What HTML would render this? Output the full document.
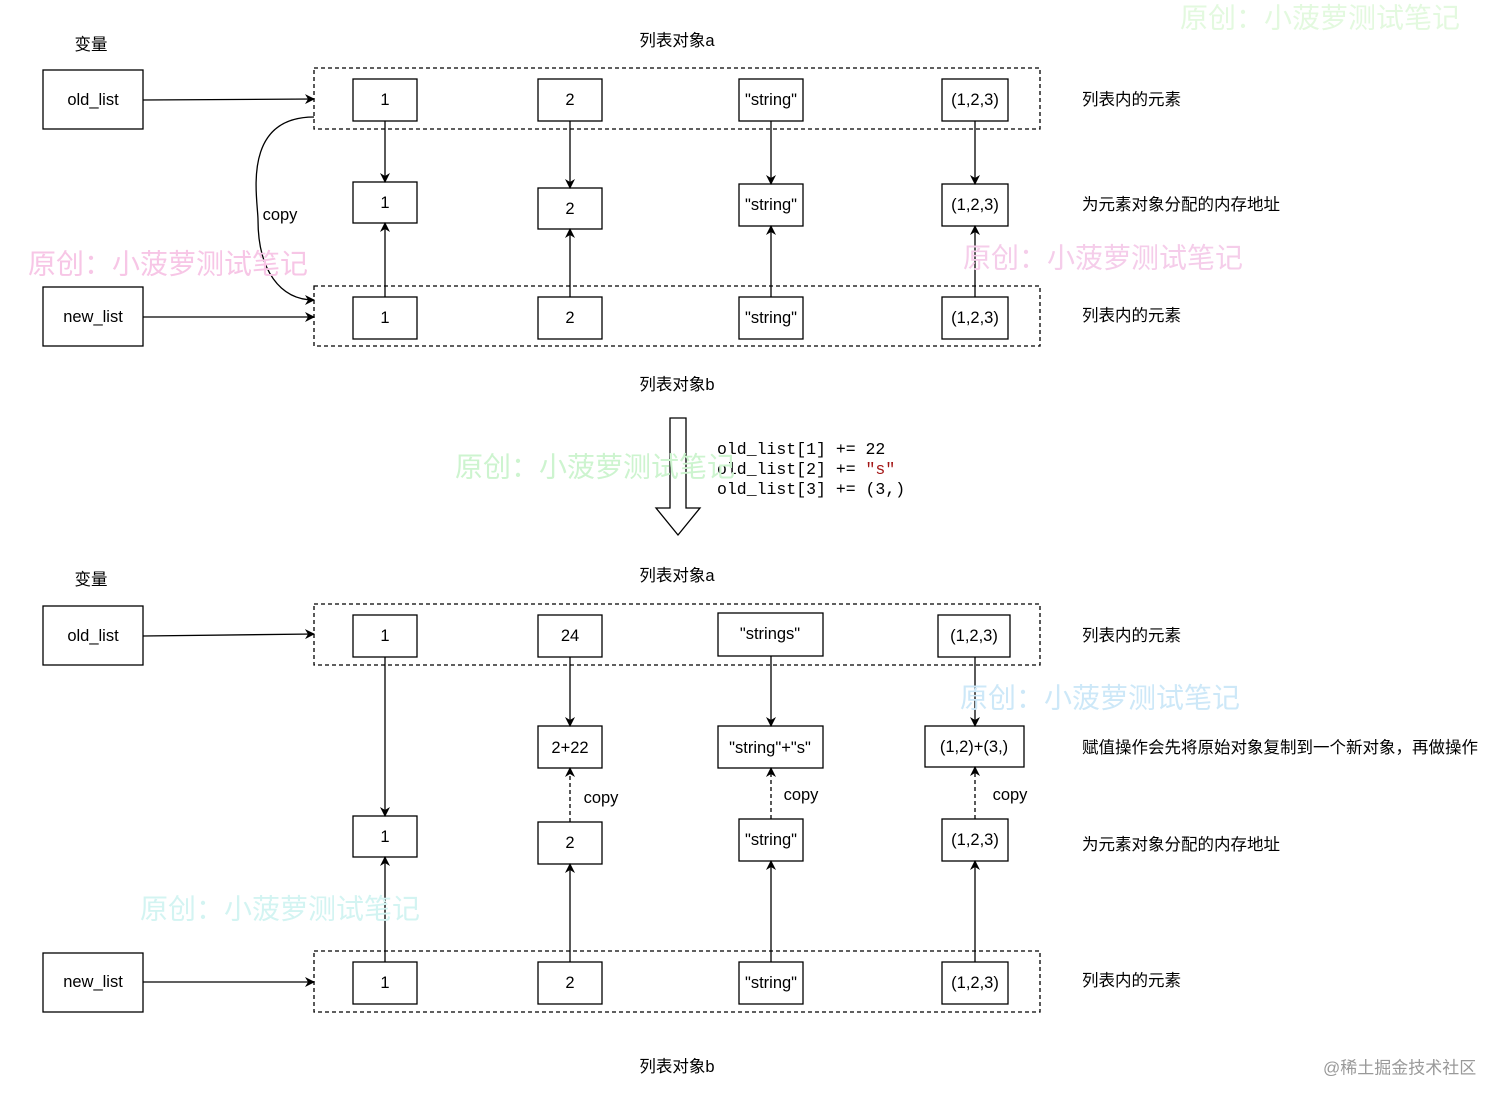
<!DOCTYPE html>
<html><head><meta charset="utf-8"><style>
html,body{margin:0;padding:0;background:#fff;}
svg{display:block}
text{font-family:"Liberation Sans","Noto Sans CJK SC",sans-serif;font-size:16.5px;fill:#000}
.c{text-anchor:middle;dominant-baseline:central}
.wm{font-size:28px;dominant-baseline:central}
.code{font-family:"Liberation Mono",monospace;font-size:16.5px}
</style></head><body>
<svg width="1512" height="1107" viewBox="0 0 1512 1107" xmlns="http://www.w3.org/2000/svg">
<defs>
<marker id="a" markerWidth="10" markerHeight="10" refX="9" refY="5" orient="auto" markerUnits="userSpaceOnUse">
<path d="M0,0 L10,5 L0,10 L3,5 Z" fill="#000"/></marker>
</defs>
<g fill="#fff" stroke="#000" stroke-width="1.3">
<rect x="314" y="68" width="726" height="61" stroke-dasharray="4,3"/>
<rect x="314" y="286" width="726" height="60" stroke-dasharray="4,3"/>
<rect x="43" y="70" width="100" height="59"/>
<rect x="43" y="287" width="100" height="59"/>
<rect x="353" y="79" width="64" height="42"/><rect x="538" y="79" width="64" height="42"/>
<rect x="739" y="79" width="64" height="42"/><rect x="942" y="79" width="66" height="42"/>
<rect x="353" y="182" width="64" height="41"/><rect x="538" y="188" width="64" height="41"/>
<rect x="739" y="184" width="64" height="42"/><rect x="942" y="184" width="66" height="42"/>
<rect x="353" y="297" width="64" height="42"/><rect x="538" y="297" width="64" height="42"/>
<rect x="739" y="297" width="64" height="42"/><rect x="942" y="297" width="66" height="42"/>
<rect x="314" y="604" width="726" height="61" stroke-dasharray="4,3"/>
<rect x="314" y="951" width="726" height="61" stroke-dasharray="4,3"/>
<rect x="43" y="606" width="100" height="59"/>
<rect x="43" y="953" width="100" height="59"/>
<rect x="353" y="615" width="64" height="42"/><rect x="538" y="615" width="64" height="42"/>
<rect x="718" y="613" width="105" height="43"/><rect x="938" y="615" width="72" height="42"/>
<rect x="538" y="726" width="64" height="42"/><rect x="718" y="726" width="105" height="42"/>
<rect x="925" y="726" width="99" height="41"/>
<rect x="353" y="816" width="64" height="41"/><rect x="538" y="822" width="64" height="42"/>
<rect x="739" y="819" width="64" height="42"/><rect x="942" y="819" width="66" height="42"/>
<rect x="353" y="962" width="64" height="42"/><rect x="538" y="962" width="64" height="42"/>
<rect x="739" y="962" width="64" height="42"/><rect x="942" y="962" width="66" height="42"/>
</g>
<g stroke="#000" stroke-width="1.3" fill="none" marker-end="url(#a)">
<path d="M143,100 L314,99"/><path d="M143,317 L314,317"/>
<path d="M385,121 V182"/><path d="M570,121 V188"/><path d="M771,121 V184"/><path d="M975,121 V184"/>
<path d="M385,297 V223"/><path d="M570,297 V229"/><path d="M771,297 V226"/><path d="M975,297 V226"/>
<path d="M314,117 C240,117 258,200 258,220 C258,270 280,300 314,300"/>
<path d="M143,636 L314,634"/><path d="M143,982 L314,982"/>
<path d="M385,657 V816"/><path d="M570,657 V726"/><path d="M771,656 V726"/><path d="M975,657 V726"/>
<path d="M385,962 V857"/><path d="M570,962 V864"/><path d="M771,962 V861"/><path d="M975,962 V861"/>
<path d="M570,822 V768" stroke-dasharray="4,3"/><path d="M771,819 V768" stroke-dasharray="4,3"/><path d="M975,819 V767" stroke-dasharray="4,3"/>
</g>
<path d="M670,418 H686 V508 H700 L678,535 L656,508 H670 Z" fill="#fff" stroke="#000" stroke-width="1.3"/>
<g>
<text x="91" y="45" class="c">变量</text>
<text x="677" y="41" class="c">列表对象a</text>
<text x="677" y="385" class="c">列表对象b</text>
<text x="93" y="100" class="c">old_list</text><text x="93" y="317" class="c">new_list</text>
<text x="385" y="100" class="c">1</text><text x="570" y="100" class="c">2</text><text x="771" y="100" class="c">"string"</text><text x="975" y="100" class="c">(1,2,3)</text>
<text x="385" y="203" class="c">1</text><text x="570" y="209" class="c">2</text><text x="771" y="205" class="c">"string"</text><text x="975" y="205" class="c">(1,2,3)</text>
<text x="385" y="318" class="c">1</text><text x="570" y="318" class="c">2</text><text x="771" y="318" class="c">"string"</text><text x="975" y="318" class="c">(1,2,3)</text>
<text x="280" y="215" class="c">copy</text>
<text x="1082" y="100" style="dominant-baseline:central">列表内的元素</text>
<text x="1082" y="205" style="dominant-baseline:central">为元素对象分配的内存地址</text>
<text x="1082" y="316" style="dominant-baseline:central">列表内的元素</text>
<text x="717" y="454" class="code">old_list[1] += 22</text>
<text x="717" y="474" class="code">old_list[2] += <tspan fill="#a31515">"s"</tspan></text>
<text x="717" y="494" class="code">old_list[3] += (3,)</text>
<text x="91" y="580" class="c">变量</text>
<text x="677" y="576" class="c">列表对象a</text>
<text x="677" y="1067" class="c">列表对象b</text>
<text x="93" y="636" class="c">old_list</text><text x="93" y="982" class="c">new_list</text>
<text x="385" y="636" class="c">1</text><text x="570" y="636" class="c">24</text><text x="770" y="634" class="c">"strings"</text><text x="974" y="636" class="c">(1,2,3)</text>
<text x="570" y="748" class="c">2+22</text><text x="770" y="748" class="c">"string"+"s"</text><text x="974" y="747" class="c">(1,2)+(3,)</text>
<text x="601" y="798" class="c">copy</text><text x="801" y="795" class="c">copy</text><text x="1010" y="795" class="c">copy</text>
<text x="385" y="837" class="c">1</text><text x="570" y="843" class="c">2</text><text x="771" y="840" class="c">"string"</text><text x="975" y="840" class="c">(1,2,3)</text>
<text x="385" y="983" class="c">1</text><text x="570" y="983" class="c">2</text><text x="771" y="983" class="c">"string"</text><text x="975" y="983" class="c">(1,2,3)</text>
<text x="1082" y="636" style="dominant-baseline:central">列表内的元素</text>
<text x="1082" y="748" style="dominant-baseline:central">赋值操作会先将原始对象复制到一个新对象，再做操作</text>
<text x="1082" y="845" style="dominant-baseline:central">为元素对象分配的内存地址</text>
<text x="1082" y="981" style="dominant-baseline:central">列表内的元素</text>
<text x="1323" y="1068" style="dominant-baseline:central;fill:#999;font-size:17px">@稀土掘金技术社区</text>
</g>
<g>
<text x="28" y="264" class="wm" style="fill:#f7c6e6">原创：小菠萝测试笔记</text>
<text x="1180" y="18" class="wm" style="fill:#e3f9df">原创：小菠萝测试笔记</text>
<text x="963" y="258" class="wm" style="fill:#f5cdea">原创：小菠萝测试笔记</text>
<text x="455" y="467" class="wm" style="fill:#cdf4cf">原创：小菠萝测试笔记</text>
<text x="960" y="698" class="wm" style="fill:#cde8f8">原创：小菠萝测试笔记</text>
<text x="140" y="909" class="wm" style="fill:#d3f4f2">原创：小菠萝测试笔记</text>
</g>
</svg>
</body></html>
